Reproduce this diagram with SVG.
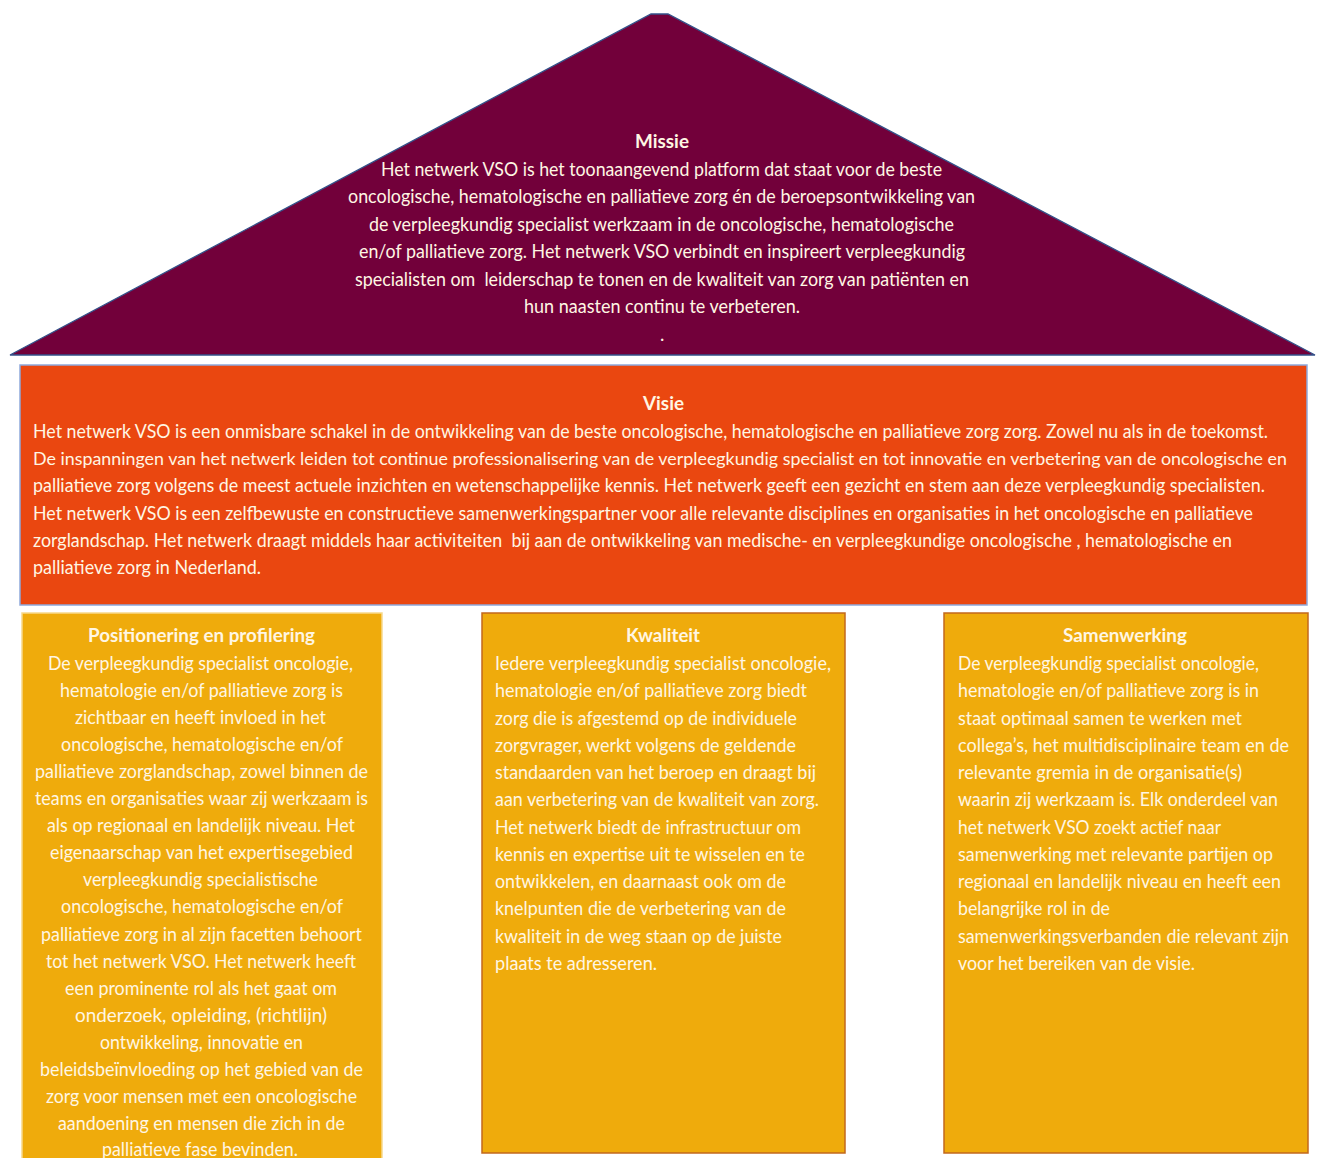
<svg xmlns="http://www.w3.org/2000/svg" width="1317" height="1158" viewBox="0 0 1317 1158">
<style>
.t{font-family:Lato,"Open Sans","Liberation Sans",sans-serif;font-size:18.5px;fill:#FFF6E3;}
.b{font-weight:700;}
.s{font-size:17.8px;}
.roof{fill:#72003A;stroke:#34528A;stroke-width:1.3;}
.visie{fill:#EA4710;stroke:#8EA9DB;stroke-width:1.5;}
.pil{fill:#EFAB0C;stroke:#C2681C;stroke-width:1.5;}
.pilL{fill:#EFAB0C;stroke:#F7D98C;stroke-width:1.5;}
</style>
<rect width="1317" height="1158" fill="#FFFFFF"/>
<g id="connectors"/>
<g id="missie">
<polygon class="roof" points="10,355 651,14 668,14 1315,355"/>
<text class="t b" x="635" y="148" textLength="54" lengthAdjust="spacingAndGlyphs">Missie</text>
<text class="t" x="381" y="175.5" textLength="561" lengthAdjust="spacingAndGlyphs">Het netwerk VSO is het toonaangevend platform dat staat voor de beste</text>
<text class="t" x="348" y="203" textLength="627" lengthAdjust="spacingAndGlyphs">oncologische, hematologische en palliatieve zorg én de beroepsontwikkeling van</text>
<text class="t" x="369" y="230.5" textLength="585" lengthAdjust="spacingAndGlyphs">de verpleegkundig specialist werkzaam in de oncologische, hematologische</text>
<text class="t" x="359" y="258" textLength="606" lengthAdjust="spacingAndGlyphs">en/of palliatieve zorg. Het netwerk VSO verbindt en inspireert verpleegkundig</text>
<text class="t" x="355" y="285.5" textLength="614" lengthAdjust="spacingAndGlyphs" xml:space="preserve">specialisten om  leiderschap te tonen en de kwaliteit van zorg van patiënten en</text>
<text class="t" x="524" y="312.5" textLength="276" lengthAdjust="spacingAndGlyphs">hun naasten continu te verbeteren.</text>
<text class="t" x="660" y="341">.</text>
</g>
<g id="visie">
<rect class="visie" x="20" y="365" width="1287" height="240"/>
<text class="t b" x="643" y="410" textLength="41" lengthAdjust="spacingAndGlyphs">Visie</text>
<text class="t" x="33" y="437.7" textLength="1235" lengthAdjust="spacingAndGlyphs">Het netwerk VSO is een onmisbare schakel in de ontwikkeling van de beste oncologische, hematologische en palliatieve zorg zorg. Zowel nu als in de toekomst.</text>
<text class="t s" x="33" y="465" textLength="1254" lengthAdjust="spacingAndGlyphs">De inspanningen van het netwerk leiden tot continue professionalisering van de verpleegkundig specialist en tot innovatie en verbetering van de oncologische en</text>
<text class="t" x="33" y="492.3" textLength="1232" lengthAdjust="spacingAndGlyphs">palliatieve zorg volgens de meest actuele inzichten en wetenschappelijke kennis. Het netwerk geeft een gezicht en stem aan deze verpleegkundig specialisten.</text>
<text class="t" x="33" y="519.6" textLength="1220" lengthAdjust="spacingAndGlyphs">Het netwerk VSO is een zelfbewuste en constructieve samenwerkingspartner voor alle relevante disciplines en organisaties in het oncologische en palliatieve</text>
<text class="t" x="33" y="546.9" textLength="1199" lengthAdjust="spacingAndGlyphs" xml:space="preserve">zorglandschap. Het netwerk draagt middels haar activiteiten  bij aan de ontwikkeling van medische- en verpleegkundige oncologische , hematologische en</text>
<text class="t" x="33" y="574.2" textLength="228" lengthAdjust="spacingAndGlyphs">palliatieve zorg in Nederland.</text>
</g>
<g id="positionering">
<rect class="pilL" x="22" y="613" width="360" height="560"/>
<text class="t b" x="88" y="641.5" textLength="227" lengthAdjust="spacingAndGlyphs">Positionering en profilering</text>
<text class="t" x="48" y="669.5" textLength="305" lengthAdjust="spacingAndGlyphs">De verpleegkundig specialist oncologie,</text>
<text class="t" x="60" y="696.6" textLength="283" lengthAdjust="spacingAndGlyphs">hematologie en/of palliatieve zorg is</text>
<text class="t" x="75" y="723.7" textLength="251" lengthAdjust="spacingAndGlyphs">zichtbaar en heeft invloed in het</text>
<text class="t" x="61" y="750.8" textLength="282" lengthAdjust="spacingAndGlyphs">oncologische, hematologische en/of</text>
<text class="t" x="35" y="777.9" textLength="333" lengthAdjust="spacingAndGlyphs">palliatieve zorglandschap, zowel binnen de</text>
<text class="t" x="35" y="805" textLength="333" lengthAdjust="spacingAndGlyphs">teams en organisaties waar zij werkzaam is</text>
<text class="t" x="47" y="832.1" textLength="308" lengthAdjust="spacingAndGlyphs">als op regionaal en landelijk niveau. Het</text>
<text class="t" x="50" y="859.2" textLength="303" lengthAdjust="spacingAndGlyphs">eigenaarschap van het expertisegebied</text>
<text class="t" x="83" y="886.3" textLength="235" lengthAdjust="spacingAndGlyphs">verpleegkundig specialistische</text>
<text class="t" x="61" y="913.4" textLength="282" lengthAdjust="spacingAndGlyphs">oncologische, hematologische en/of</text>
<text class="t" x="41" y="940.5" textLength="321" lengthAdjust="spacingAndGlyphs">palliatieve zorg in al zijn facetten behoort</text>
<text class="t" x="46" y="967.6" textLength="310" lengthAdjust="spacingAndGlyphs">tot het netwerk VSO. Het netwerk heeft</text>
<text class="t" x="65" y="994.7" textLength="272" lengthAdjust="spacingAndGlyphs">een prominente rol als het gaat om</text>
<text class="t" x="75" y="1021.8" textLength="252" lengthAdjust="spacingAndGlyphs">onderzoek, opleiding, (richtlijn)</text>
<text class="t" x="100" y="1048.9" textLength="203" lengthAdjust="spacingAndGlyphs">ontwikkeling, innovatie en</text>
<text class="t" x="40" y="1076" textLength="323" lengthAdjust="spacingAndGlyphs">beleidsbeïnvloeding op het gebied van de</text>
<text class="t" x="46" y="1103.1" textLength="311" lengthAdjust="spacingAndGlyphs">zorg voor mensen met een oncologische</text>
<text class="t" x="58" y="1130.2" textLength="287" lengthAdjust="spacingAndGlyphs">aandoening en mensen die zich in de</text>
<text class="t" x="102" y="1155.5" textLength="196" lengthAdjust="spacingAndGlyphs">palliatieve fase bevinden.</text>
</g>
<g id="kwaliteit">
<rect class="pil" x="482" y="613" width="363" height="540"/>
<text class="t b" x="626" y="641.5" textLength="74" lengthAdjust="spacingAndGlyphs">Kwaliteit</text>
<text class="t" x="495" y="670" textLength="336" lengthAdjust="spacingAndGlyphs">Iedere verpleegkundig specialist oncologie,</text>
<text class="t" x="495" y="697.3" textLength="312" lengthAdjust="spacingAndGlyphs">hematologie en/of palliatieve zorg biedt</text>
<text class="t" x="495" y="724.5" textLength="302" lengthAdjust="spacingAndGlyphs">zorg die is afgestemd op de individuele</text>
<text class="t" x="495" y="751.8" textLength="301" lengthAdjust="spacingAndGlyphs">zorgvrager, werkt volgens de geldende</text>
<text class="t" x="495" y="779.1" textLength="321" lengthAdjust="spacingAndGlyphs">standaarden van het beroep en draagt bij</text>
<text class="t" x="495" y="806.4" textLength="324" lengthAdjust="spacingAndGlyphs">aan verbetering van de kwaliteit van zorg.</text>
<text class="t" x="495" y="833.6" textLength="306" lengthAdjust="spacingAndGlyphs">Het netwerk biedt de infrastructuur om</text>
<text class="t" x="495" y="860.9" textLength="310" lengthAdjust="spacingAndGlyphs">kennis en expertise uit te wisselen en te</text>
<text class="t" x="495" y="888.2" textLength="291" lengthAdjust="spacingAndGlyphs">ontwikkelen, en daarnaast ook om de</text>
<text class="t" x="495" y="915.4" textLength="291" lengthAdjust="spacingAndGlyphs">knelpunten die de verbetering van de</text>
<text class="t" x="495" y="942.7" textLength="287" lengthAdjust="spacingAndGlyphs">kwaliteit in de weg staan op de juiste</text>
<text class="t" x="495" y="970" textLength="162" lengthAdjust="spacingAndGlyphs">plaats te adresseren.</text>
</g>
<g id="samenwerking">
<rect class="pil" x="944" y="613" width="364" height="540"/>
<text class="t b" x="1063" y="641.5" textLength="124" lengthAdjust="spacingAndGlyphs">Samenwerking</text>
<text class="t" x="958" y="670" textLength="301" lengthAdjust="spacingAndGlyphs">De verpleegkundig specialist oncologie,</text>
<text class="t" x="958" y="697.3" textLength="301" lengthAdjust="spacingAndGlyphs">hematologie en/of palliatieve zorg is in</text>
<text class="t" x="958" y="724.5" textLength="284" lengthAdjust="spacingAndGlyphs">staat optimaal samen te werken met</text>
<text class="t" x="958" y="751.8" textLength="331" lengthAdjust="spacingAndGlyphs">collega’s, het multidisciplinaire team en de</text>
<text class="t" x="958" y="779.1" textLength="284" lengthAdjust="spacingAndGlyphs">relevante gremia in de organisatie(s)</text>
<text class="t" x="958" y="806.4" textLength="320" lengthAdjust="spacingAndGlyphs">waarin zij werkzaam is. Elk onderdeel van</text>
<text class="t" x="958" y="833.6" textLength="263" lengthAdjust="spacingAndGlyphs">het netwerk VSO zoekt actief naar</text>
<text class="t" x="958" y="860.9" textLength="315" lengthAdjust="spacingAndGlyphs">samenwerking met relevante partijen op</text>
<text class="t" x="958" y="888.2" textLength="323" lengthAdjust="spacingAndGlyphs">regionaal en landelijk niveau en heeft een</text>
<text class="t" x="958" y="915.4" textLength="152" lengthAdjust="spacingAndGlyphs">belangrijke rol in de</text>
<text class="t" x="958" y="942.7" textLength="331" lengthAdjust="spacingAndGlyphs">samenwerkingsverbanden die relevant zijn</text>
<text class="t" x="958" y="970" textLength="237" lengthAdjust="spacingAndGlyphs">voor het bereiken van de visie.</text>
</g>
</svg>
